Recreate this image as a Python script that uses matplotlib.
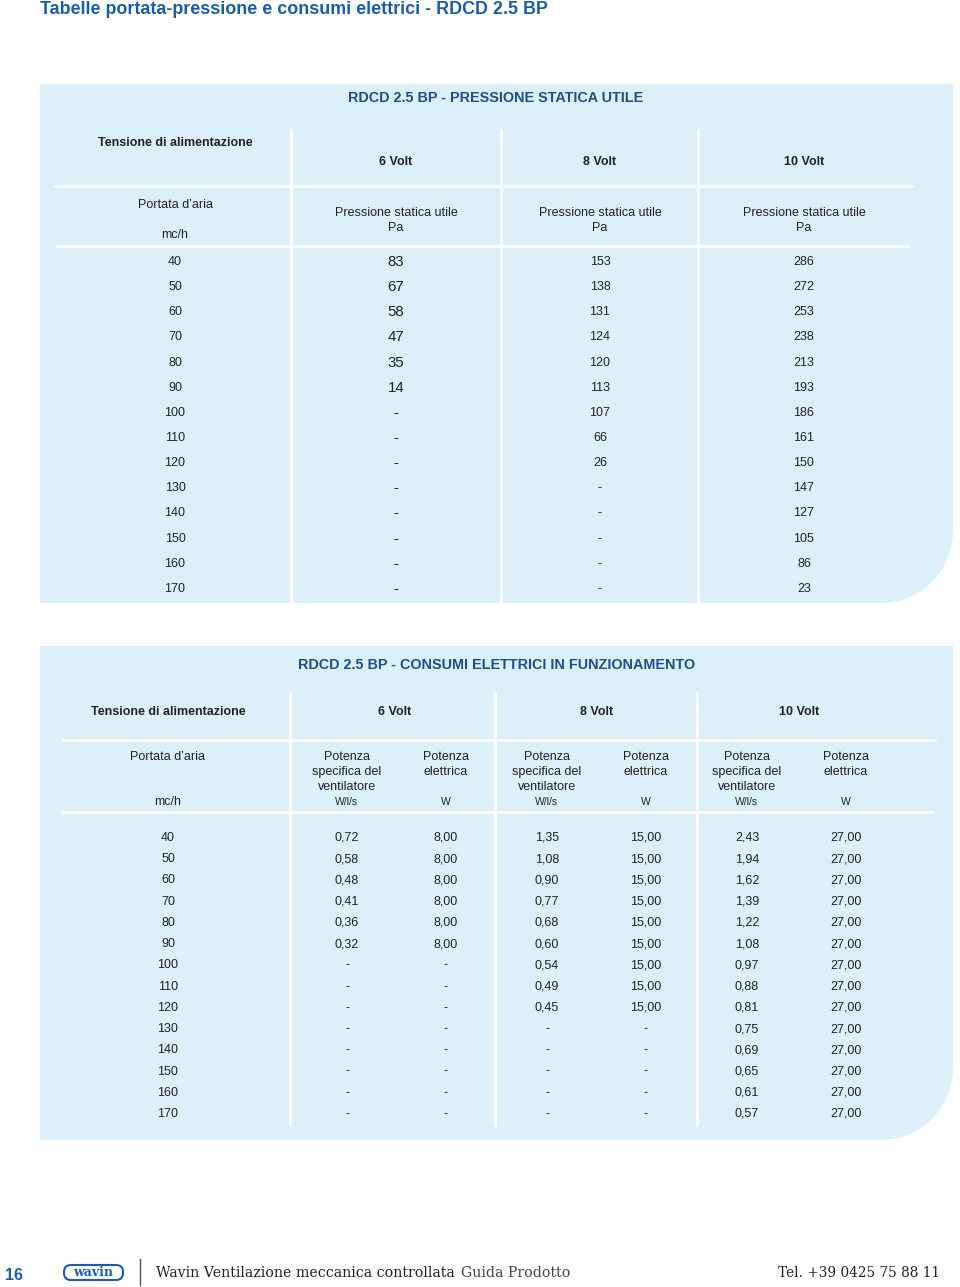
import numpy as np
import matplotlib
matplotlib.use("Agg")
import matplotlib.pyplot as plt
from matplotlib.path import Path
from matplotlib.patches import PathPatch, FancyBboxPatch

# ---------------- data ----------------
portata = [40, 50, 60, 70, 80, 90, 100, 110, 120, 130, 140, 150, 160, 170]
voltages = ["6 Volt", "8 Volt", "10 Volt"]

press_6v = [83, 67, 58, 47, 35, 14, None, None, None, None, None, None, None, None]
press_8v = [153, 138, 131, 124, 120, 113, 107, 66, 26, None, None, None, None, None]
press_10v = [286, 272, 253, 238, 213, 193, 186, 161, 150, 147, 127, 105, 86, 23]

sfp_6v = [0.72, 0.58, 0.48, 0.41, 0.36, 0.32, None, None, None, None, None, None, None, None]
pel_6v = [8.00, 8.00, 8.00, 8.00, 8.00, 8.00, None, None, None, None, None, None, None, None]
sfp_8v = [1.35, 1.08, 0.90, 0.77, 0.68, 0.60, 0.54, 0.49, 0.45, None, None, None, None, None]
pel_8v = [15.00, 15.00, 15.00, 15.00, 15.00, 15.00, 15.00, 15.00, 15.00, None, None, None, None, None]
sfp_10v = [2.43, 1.94, 1.62, 1.39, 1.22, 1.08, 0.97, 0.88, 0.81, 0.75, 0.69, 0.65, 0.61, 0.57]
pel_10v = [27.00, 27.00, 27.00, 27.00, 27.00, 27.00, 27.00, 27.00, 27.00, 27.00, 27.00, 27.00, 27.00, 27.00]

# ---------------- style ----------------
FONT = ["Liberation Sans", "DejaVu Sans"]
PANEL = "#dcf0fa"
DARKBLUE = "#1b4f8f"
TEXT = "#222222"

plt.rcParams["font.family"] = FONT

fig = plt.figure(figsize=(9.6, 12.87), dpi=100)
ax = fig.add_axes([0, 0, 1, 1])
ax.set_xlim(0, 960)
ax.set_ylim(1287, 0)
ax.axis("off")


def panel(x0, y0, x1, y1, r):
    ang = np.linspace(0, np.pi / 2, 30)
    verts = [(x0, y0), (x1, y0), (x1, y1 - r)]
    for a in ang:
        verts.append((x1 - r + r * np.cos(a), y1 - r + r * np.sin(a)))
    verts += [(x0, y1), (x0, y0)]
    codes = [Path.MOVETO] + [Path.LINETO] * (len(verts) - 2) + [Path.CLOSEPOLY]
    ax.add_patch(PathPatch(Path(verts, codes), facecolor=PANEL, edgecolor="none", zorder=0))


def txt(x, y, s, size=9, weight="normal", color=TEXT, ha="center", **kw):
    return ax.text(x, y + 1, s, fontsize=size, fontweight=weight, color=color,
                   ha=ha, va="center", **kw)


def fmt_int(v):
    return "-" if v is None else str(v)


def fmt_dec(v):
    return "-" if v is None else f"{v:.2f}".replace(".", ",")


# ---------------- page title ----------------
txt(40, 8, "Tabelle portata-pressione e consumi elettrici - RDCD 2.5 BP",
    size=12.9, weight="bold", color="#1a5ca8", ha="left")

# ---------------- table 1 ----------------
panel(40, 84, 953, 603, 72)
txt(496, 97, "RDCD 2.5 BP - PRESSIONE STATICA UTILE", size=10.4, weight="bold", color=DARKBLUE)

for xv in [291, 501, 698]:
    ax.plot([xv, xv], [130, 603], color="white", lw=2, zorder=1)
ax.plot([55, 912], [186, 186], color="white", lw=2, zorder=1)
ax.plot([57, 908], [246, 246], color="white", lw=2, zorder=1)

col1_x = [396, 600, 804]
txt(175, 142, "Tensione di alimentazione", size=9, weight="bold")
for xc, v in zip(col1_x, voltages):
    txt(xc, 161, v, size=9, weight="bold")
txt(175, 204, "Portata d\u2019aria", size=9)
txt(175, 234, "mc/h", size=9)
for xc in col1_x:
    txt(xc, 212, "Pressione statica utile", size=9)
    txt(xc, 227, "Pa", size=9)

row_y1 = 261
step1 = 25.15
for i, q in enumerate(portata):
    y = row_y1 + i * step1
    txt(175, y, str(q), size=9)
    txt(col1_x[0], y, fmt_int(press_6v[i]), size=10.8)
    txt(col1_x[1], y, fmt_int(press_8v[i]), size=9)
    txt(col1_x[2], y, fmt_int(press_10v[i]), size=9)

# ---------------- table 2 ----------------
panel(40, 646, 953, 1140, 72)
txt(497, 664, "RDCD 2.5 BP - CONSUMI ELETTRICI IN FUNZIONAMENTO", size=10.4, weight="bold", color=DARKBLUE)

for xv in [290, 495, 697]:
    ax.plot([xv, xv], [693, 1125], color="white", lw=2, zorder=1)
ax.plot([63, 935], [740, 740], color="white", lw=2, zorder=1)
ax.plot([62, 933], [812, 812], color="white", lw=2, zorder=1)

txt(168, 711, "Tensione di alimentazione", size=9, weight="bold")
for xc, v in zip([395, 597, 799], voltages):
    txt(xc, 711, v, size=9, weight="bold")
txt(168, 756, "Portata d\u2019aria", size=9)
txt(168, 801, "mc/h", size=9)

sfp_x = [347, 547, 747]
pel_x = [446, 646, 846]
for xs, xp in zip(sfp_x, pel_x):
    txt(xs, 756, "Potenza", size=9)
    txt(xs, 771, "specifica del", size=9)
    txt(xs, 786, "ventilatore", size=9)
    txt(xs, 801, "W/l/s", size=7.5)
    txt(xp, 756, "Potenza", size=9)
    txt(xp, 771, "elettrica", size=9)
    txt(xp, 801, "W", size=7.5)

sfp_all = [sfp_6v, sfp_8v, sfp_10v]
pel_all = [pel_6v, pel_8v, pel_10v]
row_y2 = 837
step2 = 21.23
for i, q in enumerate(portata):
    y = row_y2 + i * step2
    txt(168, y, str(q), size=9)
    for k in range(3):
        txt(sfp_x[k], y, fmt_dec(sfp_all[k][i]), size=9)
        txt(pel_x[k], y, fmt_dec(pel_all[k][i]), size=9)

# ---------------- footer ----------------
ax.text(5, 1275, "16", fontsize=11.5, fontweight="bold", color="#1a5ca8",
        ha="left", va="center")
ax.add_patch(FancyBboxPatch((64, 1265), 59, 15, boxstyle="round,pad=0,rounding_size=7",
                            facecolor="white", edgecolor="#1a5ca8", lw=1.5))
ax.text(93.5, 1272.5, "wavin", fontsize=9, fontweight="bold", color="#1a5ca8",
        ha="center", va="center", family=["DejaVu Serif"])
ax.plot([140, 140], [1259, 1285], color="#555555", lw=1)
main_t = ax.text(156, 1273, "Wavin Ventilazione meccanica controllata", fontsize=10.2,
                 color="#222222", ha="left", va="center", family=["DejaVu Serif"])
fig.canvas.draw()
bb = main_t.get_window_extent(renderer=fig.canvas.get_renderer())
x_end = ax.transData.inverted().transform((bb.x1, bb.y0))[0]
ax.text(x_end + 6, 1273, "Guida Prodotto", fontsize=10.2, color="#444444",
        ha="left", va="center", family=["DejaVu Serif"], fontweight="light")
ax.text(940, 1273, "Tel. +39 0425 75 88 11", fontsize=9.8, color="#222222",
        ha="right", va="center", family=["DejaVu Serif"])

fig.savefig("out.png", dpi=100)
